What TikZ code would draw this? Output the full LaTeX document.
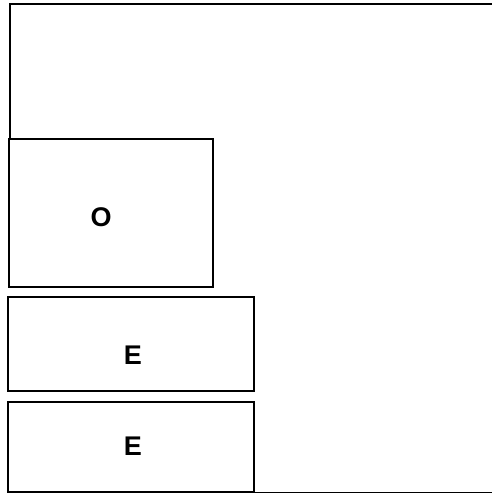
\documentclass[tikz,border=0pt]{standalone}
\usepackage{fontspec}
\setmainfont{Liberation Sans}
\usetikzlibrary{positioning}

\begin{document}
\begin{tikzpicture}[
  x=1pt, y=-1pt,
  box/.style={draw=black, line width=2pt, inner sep=0pt},
  lbl/.style={inner sep=0pt, font=\bfseries\fontsize{27pt}{30pt}\selectfont},
  frameline/.style={draw=black, line width=1.8pt}
]
\useasboundingbox (0,0) rectangle (491,494);

\coordinate (ftl) at (10,4);
\coordinate (ftr) at (492,4);
\coordinate (fbl) at (254,492.5);
\coordinate (fbr) at (492,492.5);
\coordinate (fml) at (10,139);

\node[box, minimum width=204pt, minimum height=148pt] (obox) at (111,213) {};
\node[box, minimum width=246pt, minimum height=94pt] (ebox1) at (131,344) {};
\node[box, minimum width=246pt, minimum height=90pt] (ebox2) at (131,447) {};
\node[lbl] (olbl) at (101,217) {O};
\node[lbl] (elbl1) at (133,355) {E};
\node[lbl] (elbl2) at (133,446) {E};

\draw[frameline] (fml) -- (ftl) -- (ftr);
\draw[frameline] (fbl) -- (fbr);

\end{tikzpicture}
\end{document}
